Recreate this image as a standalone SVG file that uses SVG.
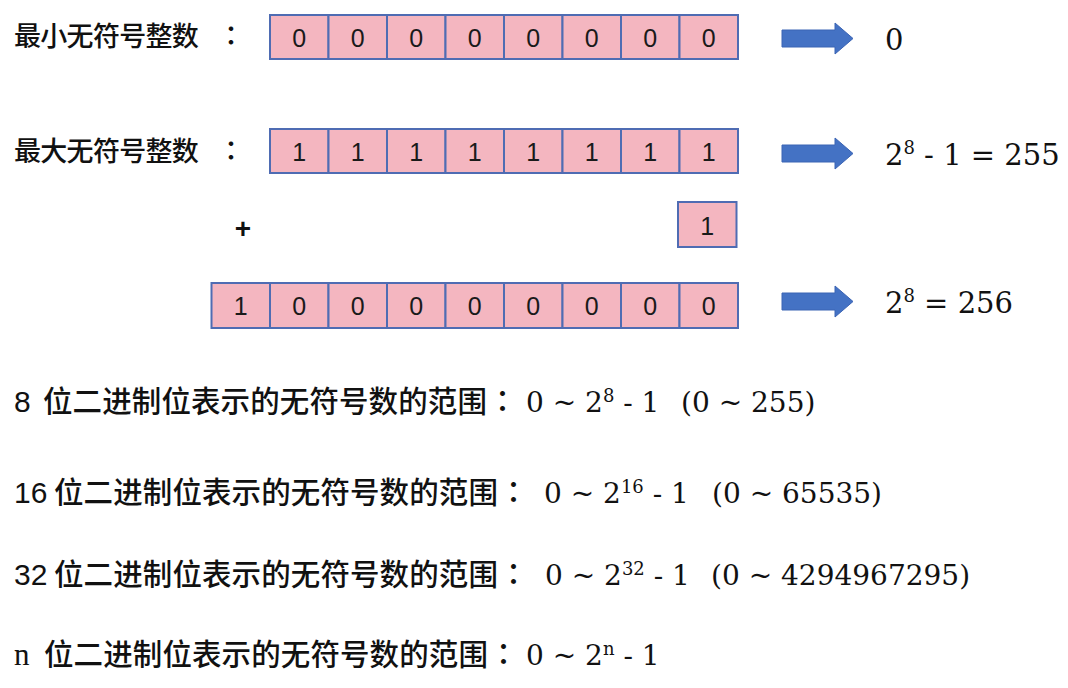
<svg xmlns="http://www.w3.org/2000/svg" xmlns:xlink="http://www.w3.org/1999/xlink" width="1068" height="688" viewBox="0 0 1068 688">
<style>
.bg{fill:#ffffff}
.cell{fill:#F4B6C0;stroke:#4F6CB3;stroke-width:2}
.bit{font-family:"Liberation Sans",Arial,sans-serif;font-size:25px;fill:#1a1a1a;text-anchor:middle}
.title{font-family:"Noto Sans CJK SC","Noto Sans CJK JP",sans-serif;font-size:27px;font-weight:500;fill:#111}
.cjk{font-family:"Noto Sans CJK SC","Noto Sans CJK JP",sans-serif;font-size:29.5px;font-weight:500;fill:#111}
.jp{font-family:"Noto Sans CJK JP","Noto Sans CJK SC",sans-serif}
.lead{font-family:"Liberation Sans",Arial,sans-serif;font-size:30px;fill:#111}
.leadn{font-family:"Liberation Serif","Times New Roman",serif;font-size:31px;fill:#111}
.math{font-family:"DejaVu Serif",serif;font-size:28px;fill:#111}
.res{font-family:"DejaVu Serif",serif;font-size:29px;fill:#111}
.sup{font-size:18px}
.plus{font-family:"Liberation Sans",Arial,sans-serif;font-size:28px;font-weight:bold;fill:#111;text-anchor:middle}
.arrow{fill:#4472C4;stroke:#3B64B4;stroke-width:1}
</style>
<defs>
<path id="arrowShape" d="M0,-8.5 H53 V-15.5 L71,0 L53,15.5 V8.5 H0 Z"/>
</defs>
<rect class="bg" x="0" y="0" width="1068" height="688"/>

<g id="row-min">
<text class="title" x="14 40.3 66.6 92.9 119.2 145.5 171.8" y="46">最小无符号整数<tspan class="jp" x="217.5">：</tspan></text>
<rect class="cell" x="270" y="15" width="58.5" height="44"/>
<rect class="cell" x="328.5" y="15" width="58.5" height="44"/>
<rect class="cell" x="387" y="15" width="58.5" height="44"/>
<rect class="cell" x="445.5" y="15" width="58.5" height="44"/>
<rect class="cell" x="504" y="15" width="58.5" height="44"/>
<rect class="cell" x="562.5" y="15" width="58.5" height="44"/>
<rect class="cell" x="621" y="15" width="58.5" height="44"/>
<rect class="cell" x="679.5" y="15" width="58.5" height="44"/>
<text class="bit" y="47"><tspan x="299.25">0</tspan><tspan x="357.75">0</tspan><tspan x="416.25">0</tspan><tspan x="474.75">0</tspan><tspan x="533.25">0</tspan><tspan x="591.75">0</tspan><tspan x="650.25">0</tspan><tspan x="708.75">0</tspan></text>
<text class="res" x="885" y="49.5">0</text>
</g>

<g id="row-max">
<text class="title" x="14 40.3 66.6 92.9 119.2 145.5 171.8" y="161">最大无符号整数<tspan class="jp" x="217.5">：</tspan></text>
<rect class="cell" x="270" y="129" width="58.5" height="44"/>
<rect class="cell" x="328.5" y="129" width="58.5" height="44"/>
<rect class="cell" x="387" y="129" width="58.5" height="44"/>
<rect class="cell" x="445.5" y="129" width="58.5" height="44"/>
<rect class="cell" x="504" y="129" width="58.5" height="44"/>
<rect class="cell" x="562.5" y="129" width="58.5" height="44"/>
<rect class="cell" x="621" y="129" width="58.5" height="44"/>
<rect class="cell" x="679.5" y="129" width="58.5" height="44"/>
<text class="bit" y="161"><tspan x="299.25">1</tspan><tspan x="357.75">1</tspan><tspan x="416.25">1</tspan><tspan x="474.75">1</tspan><tspan x="533.25">1</tspan><tspan x="591.75">1</tspan><tspan x="650.25">1</tspan><tspan x="708.75">1</tspan></text>
<text class="res" x="885" y="164.5">2<tspan class="sup" dy="-11">8</tspan><tspan dy="11"> - 1 = 255</tspan></text>
</g>

<g id="row-add">
<text class="plus" x="243" y="238">+</text>
<rect class="cell" x="678" y="202" width="58.5" height="45"/>
<text class="bit" x="707.25" y="235">1</text>
</g>

<g id="row-sum">
<rect class="cell" x="211.5" y="283" width="58.5" height="45"/>
<rect class="cell" x="270" y="283" width="58.5" height="45"/>
<rect class="cell" x="328.5" y="283" width="58.5" height="45"/>
<rect class="cell" x="387" y="283" width="58.5" height="45"/>
<rect class="cell" x="445.5" y="283" width="58.5" height="45"/>
<rect class="cell" x="504" y="283" width="58.5" height="45"/>
<rect class="cell" x="562.5" y="283" width="58.5" height="45"/>
<rect class="cell" x="621" y="283" width="58.5" height="45"/>
<rect class="cell" x="679.5" y="283" width="58.5" height="45"/>
<text class="bit" y="315"><tspan x="240.75">1</tspan><tspan x="299.25">0</tspan><tspan x="357.75">0</tspan><tspan x="416.25">0</tspan><tspan x="474.75">0</tspan><tspan x="533.25">0</tspan><tspan x="591.75">0</tspan><tspan x="650.25">0</tspan><tspan x="708.75">0</tspan></text>
<text class="res" x="885" y="312.5">2<tspan class="sup" dy="-11">8</tspan><tspan dy="11"> = 256</tspan></text>
</g>

<g id="connectors">
<use xlink:href="#arrowShape" href="#arrowShape" class="arrow" x="782" y="38.5"/>
<use xlink:href="#arrowShape" href="#arrowShape" class="arrow" x="782" y="153.5"/>
<use xlink:href="#arrowShape" href="#arrowShape" class="arrow" x="782" y="301.5"/>
</g>

<g id="range-8">
<text class="lead" x="14" y="412">8</text>
<text class="cjk" x="43 72.6 102.2 131.8 161.4 191 220.6 250.2 279.8 309.4 339 368.6 398.2 427.8 457.4" y="412">位二进制位表示的无符号数的范围<tspan class="jp" x="487.75">：</tspan></text>
<text class="math" y="412"><tspan x="526">0 ~ 2</tspan><tspan class="sup" dy="-10">8</tspan><tspan dy="10"> - 1</tspan><tspan x="681">(0 ~ 255)</tspan></text>
</g>

<g id="range-16">
<text class="lead" x="14" y="503">16</text>
<text class="cjk" x="54 83.6 113.2 142.8 172.4 202 231.6 261.2 290.8 320.4 350 379.6 409.2 438.8 468.4" y="503">位二进制位表示的无符号数的范围<tspan class="jp" x="498.75">：</tspan></text>
<text class="math" y="503"><tspan x="544">0 ~ 2</tspan><tspan class="sup" dy="-10">16</tspan><tspan dy="10"> - 1</tspan><tspan x="712">(0 ~ 65535)</tspan></text>
</g>

<g id="range-32">
<text class="lead" x="14" y="585">32</text>
<text class="cjk" x="54 83.6 113.2 142.8 172.4 202 231.6 261.2 290.8 320.4 350 379.6 409.2 438.8 468.4" y="585">位二进制位表示的无符号数的范围<tspan class="jp" x="498.75">：</tspan></text>
<text class="math" y="585"><tspan x="545">0 ~ 2</tspan><tspan class="sup" dy="-10">32</tspan><tspan dy="10"> - 1</tspan><tspan x="711">(0 ~ 4294967295)</tspan></text>
</g>

<g id="range-n">
<text class="leadn" x="14" y="665">n</text>
<text class="cjk" x="44 73.6 103.2 132.8 162.4 192 221.6 251.2 280.8 310.4 340 369.6 399.2 428.8 458.4" y="665">位二进制位表示的无符号数的范围<tspan class="jp" x="488.75">：</tspan></text>
<text class="math" y="665"><tspan x="526">0 ~ 2</tspan><tspan class="sup" dy="-10">n</tspan><tspan dy="10"> - 1</tspan></text>
</g>
</svg>
